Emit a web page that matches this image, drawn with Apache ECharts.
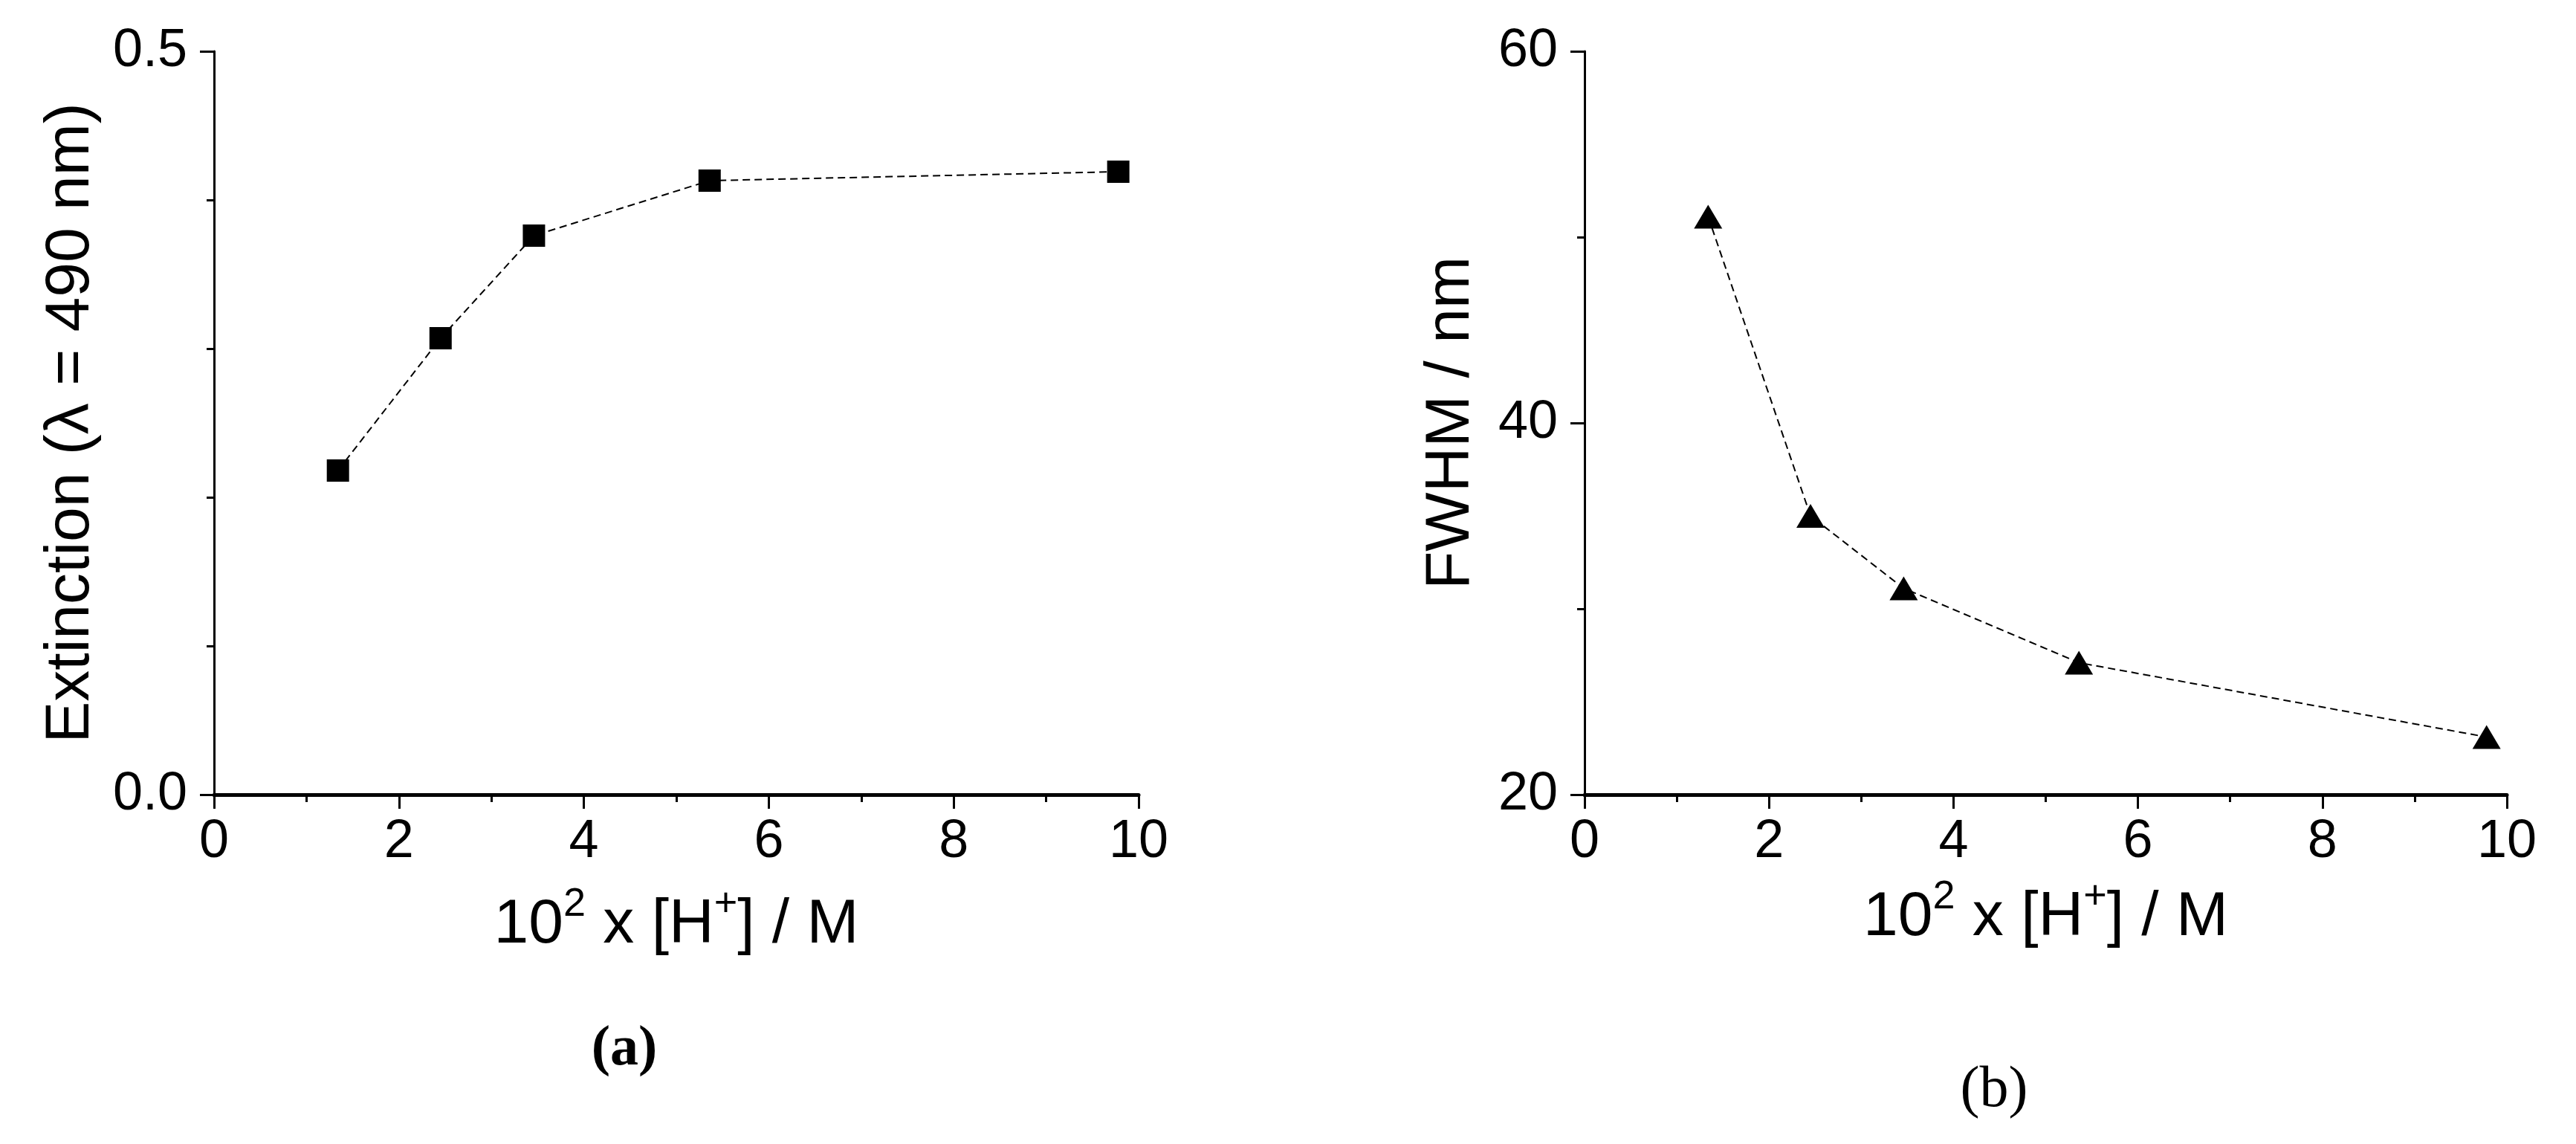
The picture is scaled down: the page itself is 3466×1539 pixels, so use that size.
<!DOCTYPE html>
<html>
<head>
<meta charset="utf-8">
<title>Extinction and FWHM vs [H+]</title>
<script src="https://cdn.jsdelivr.net/npm/echarts@6/dist/echarts.min.js"></script>
<style>
  html, body { margin: 0; padding: 0; background: #fff; }
  #main { width: 3466px; height: 1539px; }
</style>
</head>
<body>
<div id="main"></div>
<script>
// values
const acidConc = [1.34, 2.45, 3.46, 5.36, 9.78];      // 10^2 x [H+] / M
const extinction = [0.218, 0.307, 0.376, 0.413, 0.419]; // panel (a)
const fwhm = [51.1, 35.0, 31.1, 27.1, 23.1];           // panel (b), nm

const xTitle = '10{sup|2} x [H{sup|+}] / M';
const yTitleA = 'Extinction (λ = 490 nm)';
const yTitleB = 'FWHM / nm';
const panelLabels = ['(a)', '(b)'];

const font = 'Liberation Sans, Arial, sans-serif';
const black = '#000';

function pairs(ys) {
    return acidConc.map(function (x, i) { return [x, ys[i]]; });
}

function xAxisFor(gridIndex, gap) {
    return {
        type: 'value',
        gridIndex: gridIndex,
        min: 0,
        max: 10,
        interval: 2,
        name: xTitle,
        nameLocation: 'middle',
        nameGap: gap,
        nameTextStyle: {
            fontSize: 84,
            lineHeight: 110,
            fontFamily: font,
            color: black,
            rich: {
                // raised superscript: small font pushed up by bottom padding
                sup: {
                    fontSize: 54, lineHeight: 54, fontFamily: font, color: black,
                    verticalAlign: 'bottom', padding: [0, 0, 56, 0]
                }
            }
        },
        axisLine: { show: true, onZero: false, lineStyle: { color: black, width: 5 } },
        axisTick: { show: true, length: 19, lineStyle: { color: black, width: 3 } },
        minorTick: { show: true, splitNumber: 2, length: 10, lineStyle: { color: black, width: 3 } },
        axisLabel: { fontSize: 72, fontFamily: font, color: black, margin: 28 },
        splitLine: { show: false }
    };
}

function yAxisFor(gridIndex, opts) {
    return {
        type: 'value',
        gridIndex: gridIndex,
        min: opts.min,
        max: opts.max,
        interval: opts.interval,
        name: opts.name,
        nameLocation: 'middle',
        nameGap: opts.gap,
        nameTextStyle: { fontSize: 84, fontFamily: font, color: black },
        axisLine: { show: true, onZero: false, lineStyle: { color: black, width: 3 } },
        axisTick: { show: true, length: 19, lineStyle: { color: black, width: 3 } },
        minorTick: { show: true, splitNumber: opts.minor, length: 10, lineStyle: { color: black, width: 3 } },
        axisLabel: {
            fontSize: 72,
            fontFamily: font,
            color: black,
            margin: 36,
            formatter: opts.fmt
        },
        splitLine: { show: false }
    };
}

const chart = echarts.init(document.getElementById('main'));
chart.setOption({
    backgroundColor: '#fff',
    animation: false,
    grid: [
        { left: 288, top: 69, width: 1244, height: 1000 },
        { left: 2132, top: 69, width: 1241, height: 1000 }
    ],
    xAxis: [xAxisFor(0, 121), xAxisFor(1, 111)],
    yAxis: [
        yAxisFor(0, {
            min: 0, max: 0.5, interval: 0.5, minor: 5, name: yTitleA, gap: 150,
            fmt: function (v) { return v.toFixed(1); }
        }),
        yAxisFor(1, {
            min: 20, max: 60, interval: 20, minor: 2, name: yTitleB, gap: 137,
            fmt: function (v) { return String(v); }
        })
    ],
    series: [
        {
            type: 'line',
            xAxisIndex: 0,
            yAxisIndex: 0,
            data: pairs(extinction),
            symbol: 'rect',
            symbolSize: 30,
            itemStyle: { color: black },
            lineStyle: { color: black, width: 2, type: [10, 6] }
        },
        {
            type: 'line',
            xAxisIndex: 1,
            yAxisIndex: 1,
            data: pairs(fwhm),
            symbol: 'triangle',
            symbolSize: [38, 32],
            itemStyle: { color: black },
            lineStyle: { color: black, width: 2, type: [10, 6] }
        }
    ],
    graphic: [
        {
            type: 'text',
            x: 840, y: 1412,
            style: {
                text: panelLabels[0],
                font: 'bold 76px "Liberation Serif", "Times New Roman", serif',
                fill: black,
                align: 'center',
                verticalAlign: 'middle'
            }
        },
        {
            type: 'text',
            x: 2683, y: 1468,
            style: {
                text: panelLabels[1],
                font: '78px "Liberation Serif", "Times New Roman", serif',
                fill: black,
                align: 'center',
                verticalAlign: 'middle'
            }
        }
    ]
});
</script>
</body>
</html>
